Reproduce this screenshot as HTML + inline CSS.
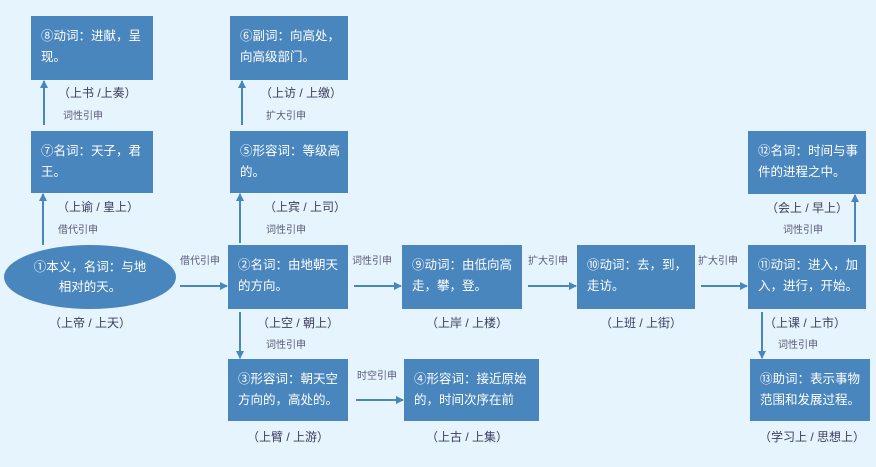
<!DOCTYPE html>
<html><head><meta charset="utf-8"><style>
body{margin:0;width:876px;height:467px;background:#e6f4fd;position:relative;overflow:hidden;font-family:"Liberation Sans","Noto Sans CJK SC",sans-serif;}
.b{position:absolute;background:#4a86be;color:#fff;font-size:12.5px;line-height:21px;padding:10px 0 0 10px;box-sizing:border-box;}
.e{position:absolute;left:4px;top:245px;width:172px;height:64px;border-radius:50%;background:#4a86be;color:#fff;font-size:12.5px;line-height:20px;text-align:center;padding-top:12px;box-sizing:border-box;}
.x{position:absolute;font-size:12px;color:#3c3c5c;white-space:pre;}
.l{position:absolute;font-size:10px;color:#5a5a7a;white-space:pre;}
svg{position:absolute;left:0;top:0;}
</style></head><body>
<div class="b" style="left:31px;top:16px;width:122px;height:64px">⑧动词：进献，呈<br>现。</div>
<div class="b" style="left:230px;top:16px;width:118px;height:64px">⑥副词：向高处，<br>向高级部门。</div>
<div class="b" style="left:31px;top:131px;width:122px;height:62px">⑦名词：天子，君<br>王。</div>
<div class="b" style="left:230px;top:131px;width:118px;height:62px">⑤形容词：等级高<br>的。</div>
<div class="e">①本义，名词：与地<br>相对的天。</div>
<div class="b" style="left:228px;top:245px;width:120px;height:64px">②名词：由地朝天<br>的方向。</div>
<div class="b" style="left:402px;top:245px;width:120px;height:64px">⑨动词：由低向高<br>走，攀，登。</div>
<div class="b" style="left:577px;top:245px;width:118px;height:64px">⑩动词：去，到，<br>走访。</div>
<div class="b" style="left:748px;top:245px;width:118px;height:64px">⑪动词：进入，加<br>入，进行，开始。</div>
<div class="b" style="left:748px;top:131px;width:118px;height:63px">⑫名词：时间与事<br>件的进程之中。</div>
<div class="b" style="left:228px;top:359px;width:120px;height:62px">③形容词：朝天空<br>方向的，高处的。</div>
<div class="b" style="left:404px;top:359px;width:135px;height:62px">④形容词：接近原始<br>的，时间次序在前</div>
<div class="b" style="left:750px;top:359px;width:120px;height:62px">⑬助词：表示事物<br>范围和发展过程。</div>

<div class="x" style="left:58px;top:84px">（上书 /上奏）</div>
<div class="l" style="left:63px;top:107px">词性引申</div>
<div class="x" style="left:260px;top:84px">（上访 / 上缴）</div>
<div class="l" style="left:266px;top:107px">扩大引申</div>
<div class="x" style="left:57px;top:198px">（上谕 / 皇上）</div>
<div class="l" style="left:58px;top:221px">借代引申</div>
<div class="x" style="left:264px;top:198px">（上宾 / 上司）</div>
<div class="l" style="left:266px;top:221px">词性引申</div>
<div class="l" style="left:180px;top:252px">借代引申</div>
<div class="x" style="left:49px;top:314px">（上帝 / 上天）</div>
<div class="l" style="left:352px;top:252px">词性引申</div>
<div class="x" style="left:257px;top:314px">（上空 / 朝上）</div>
<div class="l" style="left:266px;top:336px">词性引申</div>
<div class="l" style="left:357px;top:367px">时空引申</div>
<div class="x" style="left:247px;top:428px">（上臂 / 上游）</div>
<div class="x" style="left:426px;top:314px">（上岸 / 上楼）</div>
<div class="l" style="left:528px;top:252px">扩大引申</div>
<div class="x" style="left:600px;top:314px">（上班 / 上街）</div>
<div class="l" style="left:698px;top:252px">扩大引申</div>
<div class="x" style="left:764px;top:314px">（上课 / 上市）</div>
<div class="l" style="left:778px;top:336px">词性引申</div>
<div class="x" style="left:766px;top:199px">（会上 / 早上）</div>
<div class="l" style="left:783px;top:221px">词性引申</div>
<div class="x" style="left:426px;top:428px">（上古 / 上集）</div>
<div class="x" style="left:759px;top:428px">（学习上 / 思想上）</div>

<svg width="876" height="467">
<defs><marker id="a" markerWidth="8" markerHeight="8" refX="7" refY="4" orient="auto" markerUnits="userSpaceOnUse"><path d="M0,0 L8,4 L0,8 z" fill="#4a86be"/></marker></defs>
<g stroke="#4a86be" stroke-width="2" fill="none" marker-end="url(#a)">
<line x1="44" y1="125" x2="44" y2="81"/>
<line x1="43" y1="245" x2="43" y2="194"/>
<line x1="242" y1="125" x2="242" y2="81"/>
<line x1="240" y1="243" x2="240" y2="194"/>
<line x1="180" y1="286" x2="227" y2="286"/>
<line x1="354" y1="286" x2="401" y2="286"/>
<line x1="528" y1="286" x2="576" y2="286"/>
<line x1="701" y1="286" x2="747" y2="286"/>
<line x1="855" y1="242" x2="855" y2="195"/>
<line x1="240" y1="312" x2="240" y2="358"/>
<line x1="356" y1="400" x2="403" y2="400"/>
<line x1="762" y1="312" x2="762" y2="358"/>
</g></svg>
</body></html>
